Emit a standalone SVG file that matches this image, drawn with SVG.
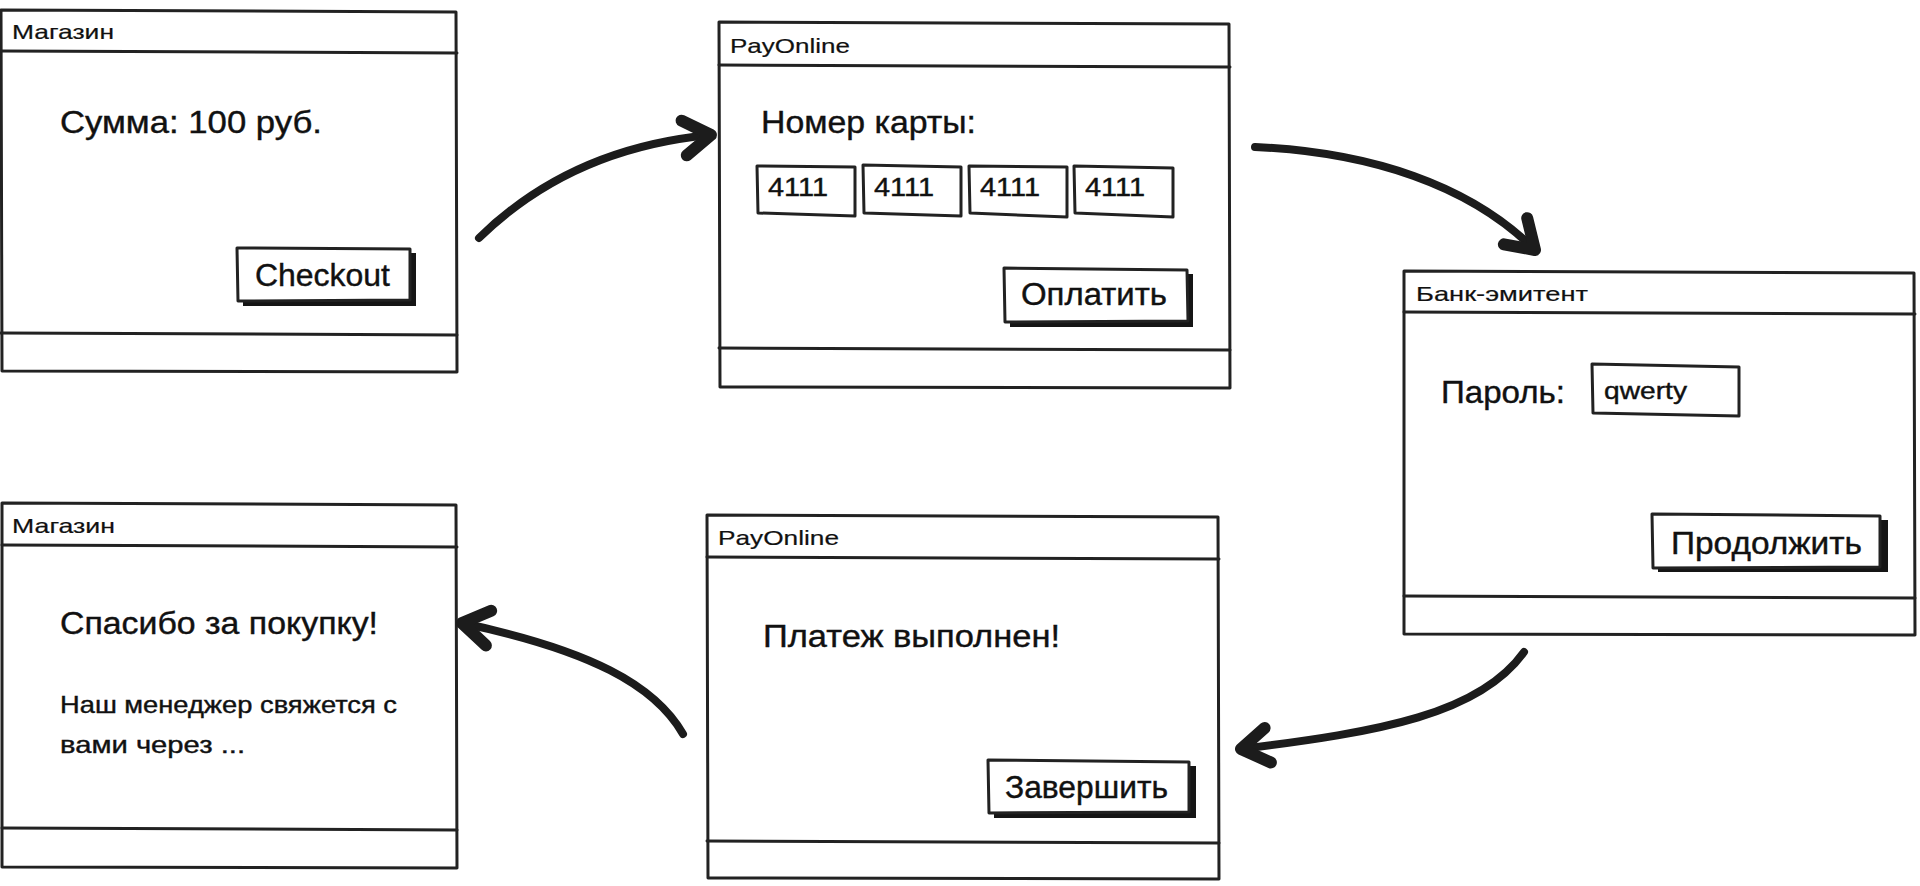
<svg xmlns="http://www.w3.org/2000/svg" width="1920" height="886" viewBox="0 0 1920 886">
<defs>
<style>
.win{fill:#fff;stroke:#222;stroke-width:3;stroke-linejoin:round}
.ln{fill:none;stroke:#222;stroke-width:3;stroke-linecap:round}
.box{fill:#fff;stroke:#222;stroke-width:3;stroke-linejoin:round}
.shadow{fill:#151515}
.t{font-family:"Liberation Sans",Arial,sans-serif;fill:#111;stroke:#111;stroke-width:0.4}
.title{font-size:21px;stroke-width:0.2}
.big{font-size:31px}
.mid{font-size:24px}
.inp{font-size:25px}
.arrow{fill:none;stroke:#1c1c1c;stroke-width:8;stroke-linecap:round}
</style>
<marker id="head" markerUnits="userSpaceOnUse" markerWidth="50" markerHeight="50" viewBox="0 0 50 50" refX="38" refY="25" orient="auto" overflow="visible">
<path d="M10,8 L38,25 L12,43" fill="none" stroke="#1c1c1c" stroke-width="12" stroke-linecap="round" stroke-linejoin="round"/>
</marker>
</defs>
<rect width="1920" height="886" fill="#fff"/>

<g id="shop1">
<path class="win" d="M1,10 L456,12 L457,372 L2,371 Z"/>
<path class="ln" d="M1,51 L457,53"/>
<path class="ln" d="M1,333 L457,335"/>
<text class="t title" x="12" y="39" textLength="102" lengthAdjust="spacingAndGlyphs">Магазин</text>
<text class="t big" x="60" y="133" textLength="262" lengthAdjust="spacingAndGlyphs">Сумма: 100 руб.</text>
<g id="btn-checkout">
<rect class="shadow" x="243" y="253" width="173" height="53"/>
<path class="box" d="M237,248 L410,249 L410,300 L238,301 Z"/>
<text class="t big" x="255" y="286" textLength="135" lengthAdjust="spacingAndGlyphs">Checkout</text>
</g>
</g>

<g id="payonline1">
<path class="win" d="M719,22 L1229,24 L1230,388 L720,387 Z"/>
<path class="ln" d="M719,65 L1230,67"/>
<path class="ln" d="M719,348 L1230,350"/>
<text class="t title" x="730" y="53" textLength="120" lengthAdjust="spacingAndGlyphs">PayOnline</text>
<text class="t big" x="761" y="133" textLength="215" lengthAdjust="spacingAndGlyphs">Номер карты:</text>
<path class="box" d="M757,166 L855,167 L855,216 L758,213 Z"/>
<path class="box" d="M863,165 L961,167 L961,216 L864,213 Z"/>
<path class="box" d="M969,166 L1067,167 L1067,217 L970,213 Z"/>
<path class="box" d="M1074,166 L1173,168 L1173,217 L1075,213 Z"/>
<text class="t inp" x="768" y="196" textLength="60" lengthAdjust="spacingAndGlyphs">4111</text>
<text class="t inp" x="874" y="196" textLength="60" lengthAdjust="spacingAndGlyphs">4111</text>
<text class="t inp" x="980" y="196" textLength="60" lengthAdjust="spacingAndGlyphs">4111</text>
<text class="t inp" x="1085" y="196" textLength="60" lengthAdjust="spacingAndGlyphs">4111</text>
<g id="btn-pay">
<rect class="shadow" x="1010" y="274" width="183" height="53"/>
<path class="box" d="M1004,268 L1187,270 L1188,321 L1005,322 Z"/>
<text class="t big" x="1021" y="305" textLength="146" lengthAdjust="spacingAndGlyphs">Оплатить</text>
</g>
</g>

<g id="bank">
<path class="win" d="M1404,271 L1914,273 L1915,635 L1404,634 Z"/>
<path class="ln" d="M1404,312 L1915,314"/>
<path class="ln" d="M1404,596 L1915,598"/>
<text class="t title" x="1416" y="301" textLength="172" lengthAdjust="spacingAndGlyphs">Банк-эмитент</text>
<text class="t big" x="1441" y="403" textLength="124" lengthAdjust="spacingAndGlyphs">Пароль:</text>
<path class="box" d="M1592,364 L1739,367 L1739,416 L1593,413 Z"/>
<text class="t mid" x="1604" y="399" textLength="83" lengthAdjust="spacingAndGlyphs">qwerty</text>
<g id="btn-continue">
<rect class="shadow" x="1658" y="520" width="230" height="52"/>
<path class="box" d="M1652,514 L1880,516 L1880,567 L1653,568 Z"/>
<text class="t big" x="1671" y="554" textLength="191" lengthAdjust="spacingAndGlyphs">Продолжить</text>
</g>
</g>

<g id="payonline2">
<path class="win" d="M707,515 L1218,517 L1219,879 L708,878 Z"/>
<path class="ln" d="M707,557 L1219,559"/>
<path class="ln" d="M707,841 L1219,843"/>
<text class="t title" x="718" y="545" textLength="121" lengthAdjust="spacingAndGlyphs">PayOnline</text>
<text class="t big" x="763" y="647" textLength="297" lengthAdjust="spacingAndGlyphs">Платеж выполнен!</text>
<g id="btn-finish">
<rect class="shadow" x="994" y="766" width="202" height="52"/>
<path class="box" d="M988,760 L1189,762 L1189,812 L989,813 Z"/>
<text class="t big" x="1005" y="798" textLength="163" lengthAdjust="spacingAndGlyphs">Завершить</text>
</g>
</g>

<g id="shop2">
<path class="win" d="M2,503 L456,505 L457,868 L2,867 Z"/>
<path class="ln" d="M2,545 L457,547"/>
<path class="ln" d="M2,828 L457,830"/>
<text class="t title" x="12" y="533" textLength="103" lengthAdjust="spacingAndGlyphs">Магазин</text>
<text class="t big" x="60" y="634" textLength="318" lengthAdjust="spacingAndGlyphs">Спасибо за покупку!</text>
<text class="t mid" x="60" y="713" textLength="337" lengthAdjust="spacingAndGlyphs">Наш менеджер свяжется с</text>
<text class="t mid" x="60" y="753" textLength="185" lengthAdjust="spacingAndGlyphs">вами через ...</text>
</g>

<g id="connectors">
<path class="arrow" marker-end="url(#head)" d="M479,238 Q571,148 711,135"/>
<path class="arrow" marker-end="url(#head)" d="M1255,147 C1370,152 1470,185 1535,250"/>
<path class="arrow" marker-end="url(#head)" d="M1524,652 C1480,714 1380,732 1241,749"/>
<path class="arrow" marker-end="url(#head)" d="M683,734 C655,685 590,650 462,623"/>
</g>
</svg>
